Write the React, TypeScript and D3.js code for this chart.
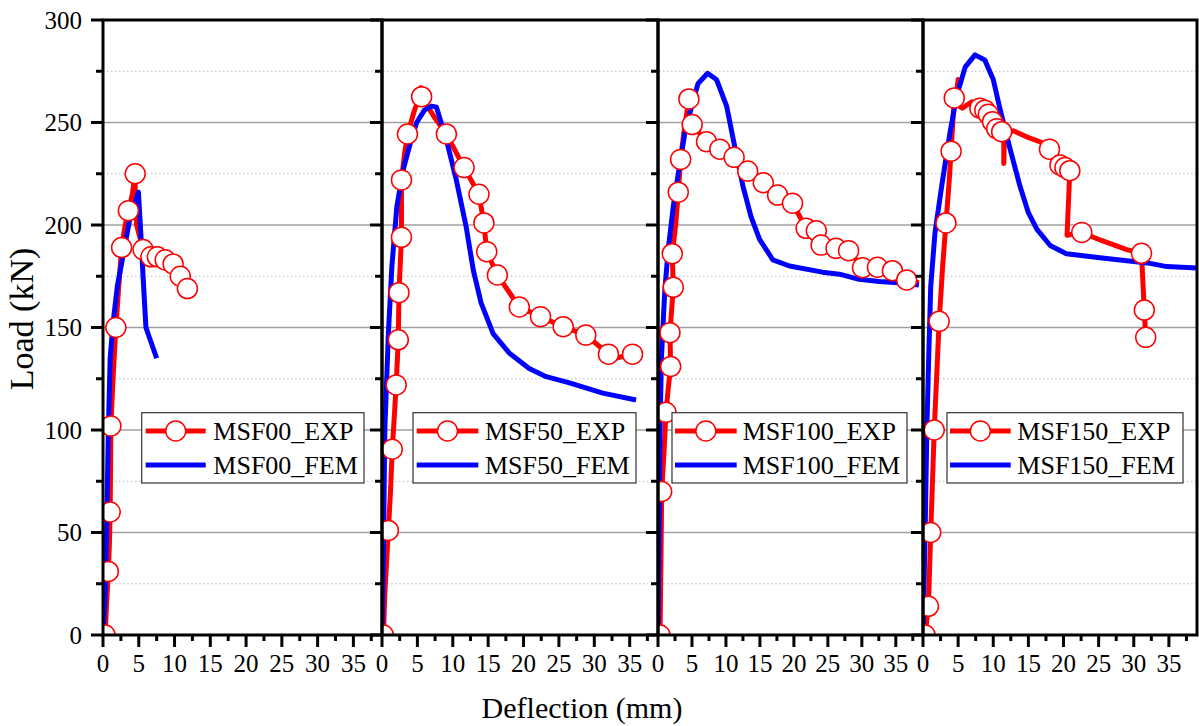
import React from 'react';
import * as d3 from 'd3';

type Pt = [number, number];

// ---------------- data ----------------
const PANEL_NAMES = ['MSF00', 'MSF50', 'MSF100', 'MSF150'];
const X_TICKS = [0, 5, 10, 15, 20, 25, 30, 35];
const X_MINOR = [2.5, 7.5, 12.5, 17.5, 22.5, 27.5, 32.5, 37.5];
const Y_TICKS = [0, 50, 100, 150, 200, 250, 300];
const Y_MINOR = [25, 75, 125, 175, 225, 275];

const MSF00_EXP: Pt[] = [
  [0, 0], [0.3, 0], [0.5, 15], [0.75, 31], [0.9, 45], [1.0, 60], [1.05, 80], [1.1, 102], [1.4, 125],
  [1.8, 150], [2.2, 170], [2.6, 189], [3.1, 200], [3.55, 207], [4.1, 215], [4.5, 225], [4.5, 212],
  [4.7, 200], [5.6, 188], [6.7, 184.5], [7.6, 184.5], [8.7, 183], [9.8, 181], [10.8, 175], [11.8, 169],
];
const MSF00_EXP_MARKERS: Pt[] = [
  [0.3, 0], [0.75, 31], [1.0, 60], [1.1, 102], [1.8, 150], [2.6, 189], [3.55, 207], [4.5, 225],
  [5.6, 188], [6.7, 184.5], [7.6, 184.5], [8.7, 183], [9.8, 181], [10.8, 175], [11.8, 169],
];
const MSF00_FEM: Pt[] = [
  [0, 0], [0.3, 20], [0.5, 50], [0.75, 100], [1.0, 135], [1.4, 152], [2.0, 170], [2.85, 186],
  [3.8, 204], [4.95, 216], [5.3, 195], [5.6, 175], [6.0, 150], [7.5, 135],
];

const MSF50_EXP: Pt[] = [
  [0, 0], [0.2, 0], [0.4, 20], [0.9, 51], [1.2, 70], [1.45, 90.6], [1.8, 110], [2.0, 122], [2.3, 144],
  [2.4, 167], [2.75, 194], [2.75, 222], [3.2, 235], [3.6, 244], [4.5, 255], [5.2, 262], [5.5, 267],
  [5.6, 262.6], [7.5, 252], [9.1, 244.4], [11.6, 228], [13.7, 215], [14.4, 201], [14.8, 187],
  [16.3, 175.6], [19.4, 160], [22.4, 155.3], [25.6, 150.4], [28.8, 146.3], [31, 140], [32, 137],
  [33, 135], [35.4, 137],
];
const MSF50_EXP_MARKERS: Pt[] = [
  [0.2, 0], [0.9, 51], [1.45, 90.6], [2.0, 122], [2.3, 144], [2.4, 167], [2.75, 194], [2.75, 222],
  [3.6, 244.4], [5.6, 262.6], [9.1, 244.4], [11.6, 228], [13.7, 215], [14.4, 201], [14.8, 187],
  [16.3, 175.6], [19.4, 160], [22.4, 155.3], [25.6, 150.4], [28.8, 146.3], [32.0, 137], [35.4, 137],
];
const MSF50_FEM: Pt[] = [
  [0, 0], [0.2, 40], [0.4, 100], [0.9, 147], [1.4, 180], [2.1, 209], [3.0, 227], [4.0, 240],
  [4.9, 250], [6.0, 256], [7.0, 258], [7.7, 257.5], [9.1, 241.5], [10.5, 222], [11.9, 199],
  [12.9, 178], [14.0, 162], [15.7, 147], [18.0, 137.5], [20.8, 130], [23.2, 126], [26.5, 123],
  [31.2, 118], [35.9, 114.6],
];

const MSF100_EXP: Pt[] = [
  [0, 0], [0.3, 0], [0.45, 40], [0.54, 70], [0.9, 90], [1.17, 108.6], [1.5, 120], [1.86, 131],
  [1.76, 147.5], [2.25, 169.6], [2.1, 186], [2.6, 200], [2.98, 216], [3.33, 232], [3.8, 245],
  [4.55, 261.5], [4.6, 254], [5.03, 249], [7.14, 240.6], [9.1, 237], [11.2, 233], [13.2, 226.3],
  [15.5, 220.6], [17.6, 214.6], [19.8, 210.6], [21.8, 198.4], [23.3, 197.2], [24.0, 190.2],
  [26.2, 188.6], [28.05, 187.5], [30.1, 179.2], [32.3, 179.4], [34.5, 177.7], [36.6, 173.2],
  [38.4, 171.7],
];
const MSF100_EXP_MARKERS: Pt[] = [
  [0.3, 0], [0.54, 70], [1.17, 108.6], [1.86, 131], [1.76, 147.5], [2.25, 169.6], [2.1, 186],
  [2.98, 216], [3.33, 232], [4.55, 261.5], [5.03, 249], [7.14, 240.6], [9.1, 237], [11.2, 233],
  [13.2, 226.3], [15.5, 220.6], [17.6, 214.6], [19.8, 210.6], [21.8, 198.4], [23.3, 197.2],
  [24.0, 190.2], [26.2, 188.6], [28.05, 187.5], [30.1, 179.2], [32.3, 179.4], [34.5, 177.7],
  [36.6, 173.2],
];
const MSF100_FEM: Pt[] = [
  [0, 0], [0.15, 50], [0.3, 100], [0.5, 135], [1.0, 168], [1.5, 188], [2.25, 209], [2.98, 225],
  [3.96, 245], [5.2, 261], [5.9, 269], [7.3, 274], [8.6, 271], [10.1, 258], [11.3, 238], [12.5, 219],
  [13.7, 204], [14.95, 193], [16.9, 183], [19.35, 180], [24.2, 177], [26.7, 176], [29.6, 173.5],
  [32.55, 172.4], [36.5, 171.6], [38.4, 170.7],
];

const MSF150_EXP: Pt[] = [
  [0, 0], [0.3, 0], [0.77, 14], [1.1, 50], [1.6, 100], [2.3, 153], [2.8, 180], [3.27, 201],
  [3.7, 220], [4.0, 236], [4.45, 262], [4.7, 262], [5.0, 271], [5.1, 258], [5.6, 257], [6.9, 260],
  [7.5, 257], [8.1, 257], [8.8, 256], [9.3, 254], [9.9, 250.4], [10.5, 247], [11.2, 245.5],
  [11.5, 243], [11.5, 230], [11.6, 244], [12.85, 246], [14.75, 243], [17.1, 240], [18.0, 237],
  [19.5, 229.3], [20.2, 228], [20.9, 226.5], [20.5, 195], [22.6, 196.4], [25.2, 192.7], [29, 188],
  [31.1, 186.2], [31.5, 158.5], [31.7, 145.2],
];
const MSF150_EXP_MARKERS: Pt[] = [
  [0.3, 0], [0.77, 14], [1.1, 50], [1.6, 100], [2.3, 153], [3.27, 201], [4.0, 236], [4.45, 262],
  [8.1, 257], [8.8, 256], [9.3, 254], [9.9, 250.4], [10.5, 247], [11.2, 245.5], [18.0, 237],
  [19.5, 229.3], [20.2, 228], [20.9, 226.5], [22.6, 196.4], [31.1, 186.2], [31.5, 158.5], [31.7, 145.2],
];
const MSF150_FEM: Pt[] = [
  [0, 0], [0.3, 50], [0.55, 100], [0.8, 134], [1.1, 170], [1.7, 196], [2.66, 219], [3.84, 245],
  [4.8, 263], [6.0, 277], [7.4, 283], [8.8, 280.5], [10.0, 271], [11.0, 256], [12.4, 237],
  [13.8, 219], [15.0, 206], [16.2, 198], [18.1, 190], [20.4, 186], [25.2, 184], [29, 182.6],
  [32.3, 181.3], [34.7, 179.7], [39, 179],
];

const EXP_LINES = [MSF00_EXP, MSF50_EXP, MSF100_EXP, MSF150_EXP];
const EXP_MARKERS = [MSF00_EXP_MARKERS, MSF50_EXP_MARKERS, MSF100_EXP_MARKERS, MSF150_EXP_MARKERS];
const FEM_LINES = [MSF00_FEM, MSF50_FEM, MSF100_FEM, MSF150_FEM];

// ---------------- layout ----------------
const W = 1199;
const H = 726;
const TOP = 20;
const BOTTOM = 635;
const EDGES = [103, 382, 658, 923, 1197];
const X_DOMAIN: [number, number] = [0, 39];
const LEGEND_LAYOUT = [
  { box: [141.7, 364], line: [145.7, 205.7], text: 213.3 },
  { box: [413, 636], line: [416.7, 478.3], text: 485 },
  { box: [672, 907], line: [675, 736.7], text: 742.7 },
  { box: [947, 1183], line: [950, 1010.7], text: 1017.3 },
];
const LEG_TOP = 412.7;
const LEG_BOT = 483;
const ROW1 = 431;
const ROW2 = 465;

const RED = '#ff0000';
const BLUE = '#0000ff';
const FONT = '"Liberation Serif", "Times New Roman", serif';

export default function App() {
  const y = d3.scaleLinear().domain([0, 300]).range([BOTTOM, TOP]);
  const xs = PANEL_NAMES.map((_, i) =>
    d3.scaleLinear().domain(X_DOMAIN).range([EDGES[i], EDGES[i + 1]])
  );
  const x0 = EDGES[0];
  const x1 = EDGES[EDGES.length - 1];

  return (
    <svg
      width={W}
      height={H}
      viewBox={`0 0 ${W} ${H}`}
      style={{ position: 'absolute', left: 0, top: 0, display: 'block', background: '#fff' }}
      fontFamily={FONT}
    >
      <defs>
        {PANEL_NAMES.map((n, i) => (
          <clipPath id={`clip${i}`} key={n}>
            <rect x={EDGES[i]} y={TOP} width={EDGES[i + 1] - EDGES[i]} height={BOTTOM - TOP} />
          </clipPath>
        ))}
      </defs>

      {/* grid */}
      {Y_MINOR.map((v) => (
        <line key={'gm' + v} x1={x0} x2={x1} y1={y(v)} y2={y(v)} stroke="#b8b8b8" strokeWidth={1} strokeDasharray="1.5,2.5" />
      ))}
      {Y_TICKS.filter((v) => v > 0 && v < 300).map((v) => (
        <line key={'gM' + v} x1={x0} x2={x1} y1={y(v)} y2={y(v)} stroke="#a0a0a0" strokeWidth={1.4} />
      ))}

      {/* curves */}
      {PANEL_NAMES.map((n, i) => {
        const x = xs[i];
        const line = d3.line<Pt>().x((d) => x(d[0])).y((d) => y(d[1]));
        return (
          <g key={n} clipPath={`url(#clip${i})`}>
            <path d={line(EXP_LINES[i]) || ''} fill="none" stroke={RED} strokeWidth={5} strokeLinejoin="round" />
            <path d={line(FEM_LINES[i]) || ''} fill="none" stroke={BLUE} strokeWidth={5} strokeLinejoin="round" />
            {EXP_MARKERS[i].map((d, j) => (
              <circle key={j} cx={x(d[0])} cy={y(d[1])} r={10} fill="#fff" stroke={RED} strokeWidth={1.5} />
            ))}
          </g>
        );
      })}

      {/* panel frames and ticks */}
      {PANEL_NAMES.map((n, i) => {
        const x = xs[i];
        const L = EDGES[i];
        const R = EDGES[i + 1];
        return (
          <g key={'ax' + n}>
            {Y_TICKS.map((v) => (
              <line key={'yt' + v} x1={L - 12} x2={L} y1={y(v)} y2={y(v)} stroke="#000" strokeWidth={3} />
            ))}
            {Y_MINOR.map((v) => (
              <line key={'ym' + v} x1={L - 7} x2={L} y1={y(v)} y2={y(v)} stroke="#000" strokeWidth={3} />
            ))}
            {X_TICKS.map((v) => (
              <line key={'xt' + v} x1={x(v)} x2={x(v)} y1={BOTTOM} y2={BOTTOM + 12} stroke="#000" strokeWidth={3} />
            ))}
            {X_MINOR.map((v) => (
              <line key={'xm' + v} x1={x(v)} x2={x(v)} y1={BOTTOM} y2={BOTTOM + 6} stroke="#000" strokeWidth={3} />
            ))}
            {X_TICKS.map((v) => (
              <text key={'xl' + v} x={x(v)} y={672} fontSize={25} textAnchor="middle" fill="#000">
                {v}
              </text>
            ))}
            <rect x={L} y={TOP} width={R - L} height={BOTTOM - TOP} fill="none" stroke="#000" strokeWidth={3} />
          </g>
        );
      })}

      {/* y tick labels */}
      {Y_TICKS.map((v) => (
        <text key={'yl' + v} x={82} y={y(v)} dy="0.35em" fontSize={25} textAnchor="end" fill="#000">
          {v}
        </text>
      ))}

      {/* legends */}
      {PANEL_NAMES.map((n, i) => {
        const lg = LEGEND_LAYOUT[i];
        return (
          <g key={'lg' + n}>
            <rect x={lg.box[0]} y={LEG_TOP} width={lg.box[1] - lg.box[0]} height={LEG_BOT - LEG_TOP} fill="#fff" stroke="#333" strokeWidth={1.2} />
            <line x1={lg.line[0]} x2={lg.line[1]} y1={ROW1} y2={ROW1} stroke={RED} strokeWidth={5} />
            <circle cx={(lg.line[0] + lg.line[1]) / 2} cy={ROW1} r={10} fill="#fff" stroke={RED} strokeWidth={1.5} />
            <line x1={lg.line[0]} x2={lg.line[1]} y1={ROW2} y2={ROW2} stroke={BLUE} strokeWidth={5} />
            <text x={lg.text} y={ROW1} dy="0.35em" fontSize={26} fill="#000">{`${n}_EXP`}</text>
            <text x={lg.text} y={ROW2} dy="0.35em" fontSize={26} fill="#000">{`${n}_FEM`}</text>
          </g>
        );
      })}

      {/* axis titles */}
      <text x={582} y={718} fontSize={30} textAnchor="middle" fill="#000">Deflection (mm)</text>
      <text transform="translate(33,319) rotate(-90)" fontSize={34} textAnchor="middle" fill="#000">Load (kN)</text>
    </svg>
  );
}
